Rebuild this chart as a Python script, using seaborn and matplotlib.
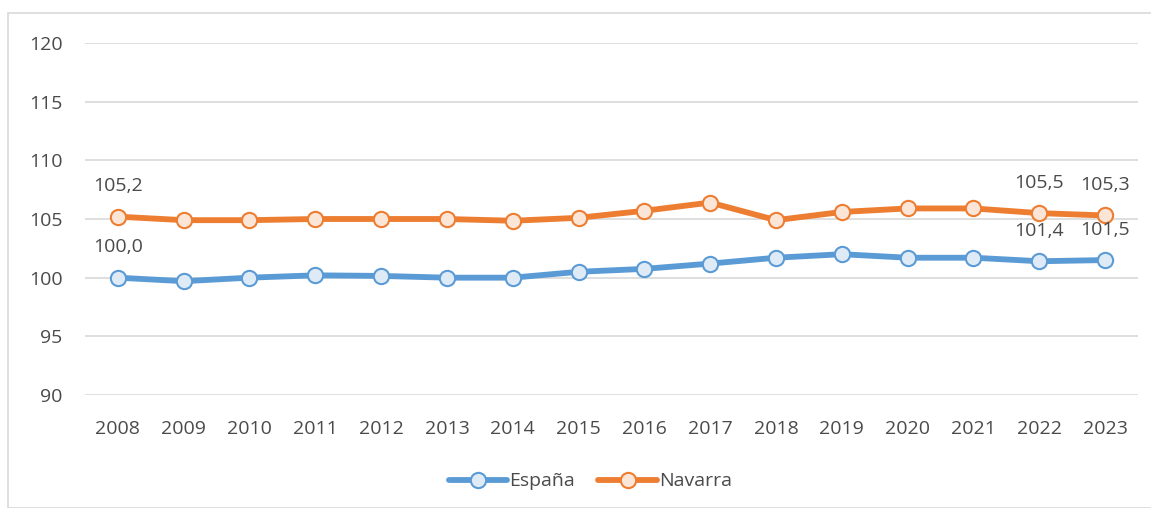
import pandas as pd
import numpy as np
import seaborn as sns
import matplotlib.pyplot as plt
from matplotlib.patches import Rectangle

sns.set_theme(style="white")
plt.rcParams['font.family'] = ['Open Sans', 'DejaVu Sans']

# Values
years = list(range(2008, 2024))
espana = [100.0, 99.7, 100.0, 100.2, 100.15, 100.0, 100.0, 100.5, 100.75, 101.2,
          101.7, 102.0, 101.7, 101.7, 101.4, 101.5]
navarra = [105.2, 104.9, 104.9, 105.0, 105.0, 105.0, 104.85, 105.1, 105.7, 106.4,
           104.9, 105.6, 105.9, 105.9, 105.5, 105.3]

# Labelled points: (series, year, text)
labels = [('Navarra', 2008, '105,2'), ('España', 2008, '100,0'),
          ('Navarra', 2022, '105,5'), ('Navarra', 2023, '105,3'),
          ('España', 2022, '101,4'), ('España', 2023, '101,5')]

df = pd.DataFrame({'year': years * 2,
                   'value': espana + navarra,
                   'serie': ['España'] * len(years) + ['Navarra'] * len(years)})

colors = {'España': '#5B9BD5', 'Navarra': '#ED7D31'}
fills = {'España': '#DEEBF7', 'Navarra': '#FBE5D6'}
text_color = '#4a4a4a'

fig = plt.figure(figsize=(11.51, 5.08), dpi=100)
ax = fig.add_axes([0.0738, 0.2224, 0.9149, 0.693])

# outer chart border
fig.patches.append(Rectangle((8 / 1151, 0), 1.0, 1 - 13 / 508, transform=fig.transFigure,
                             fill=False, edgecolor='#D9D9D9', linewidth=1.2))

for name in ['España', 'Navarra']:
    sub = df[df['serie'] == name]
    sns.lineplot(data=sub, x='year', y='value', ax=ax, color=colors[name],
                 linewidth=4.2, marker='o', markersize=11,
                 markerfacecolor=fills[name], markeredgecolor=colors[name],
                 markeredgewidth=1.5, label=name)

for name, yr, txt in labels:
    val = df[(df['serie'] == name) & (df['year'] == yr)]['value'].iloc[0]
    ax.annotate(txt, (yr, val), xytext=(0, 22), textcoords='offset points',
                ha='center', va='center', fontsize=14, color=text_color)

ax.set_xlim(2007.5, 2023.5)
ax.set_ylim(90, 120)
ax.set_yticks(np.arange(90, 121, 5))
ax.set_xticks(years)
ax.set_xticklabels([str(y) for y in years])
ax.set_xlabel('')
ax.set_ylabel('')
ax.grid(axis='y', color='#D9D9D9', linewidth=1.2)
ax.set_axisbelow(True)
for s in ax.spines.values():
    s.set_visible(False)
ax.tick_params(axis='both', length=0, labelsize=14, colors=text_color)
ax.tick_params(axis='y', pad=16)
ax.tick_params(axis='x', pad=18)

ax.legend(loc='upper center', bbox_to_anchor=(0.48, -0.17), ncol=2, frameon=False,
          fontsize=14, labelcolor=text_color, handlelength=3.0, handletextpad=0.1,
          columnspacing=1.2)

plt.savefig('out.png', dpi=100)
